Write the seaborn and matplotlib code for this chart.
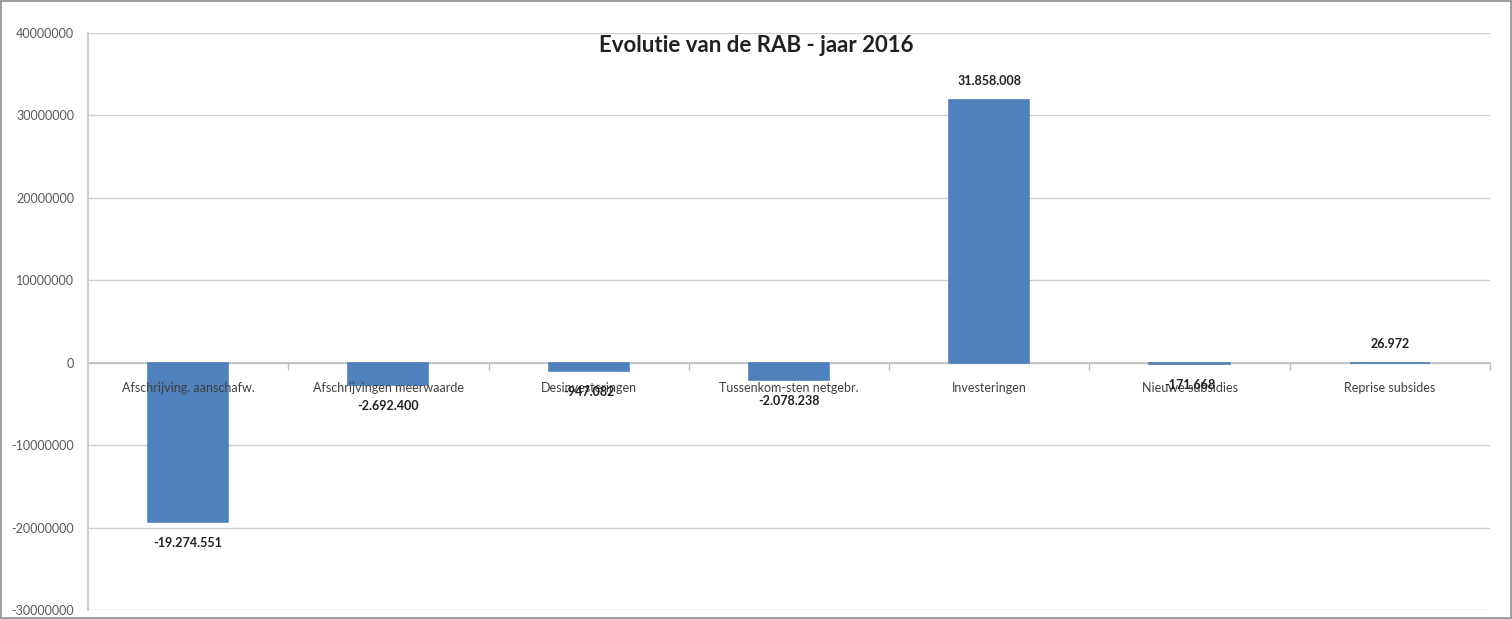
import matplotlib
matplotlib.use("Agg")
import matplotlib.pyplot as plt
import seaborn as sns
import pandas as pd
from matplotlib.ticker import FixedLocator, NullFormatter

categories = ["Afschrijving. aanschafw.", "Afschrijvingen meerwaarde", "Desinvesteringen",
              "Tussenkom-sten netgebr.", "Investeringen", "Nieuwe subsidies", "Reprise subsides"]
values = [-19274551, -2692400, -947082, -2078238, 31858008, -171668, 26972]
value_labels = ["-19.274.551", "-2.692.400", "-947.082", "-2.078.238", "31.858.008", "-171.668", "26.972"]
yticks = [-30000000, -20000000, -10000000, 0, 10000000, 20000000, 30000000, 40000000]
title = "Evolutie van de RAB - jaar 2016"

sns.set_theme(style="white")
plt.rcParams["font.family"] = ["Lato", "DejaVu Sans"]

fig = plt.figure(figsize=(15.12, 6.19), dpi=100)
fig.patch.set_edgecolor("#A0A0A0")
fig.patch.set_linewidth(1.5)
ax = fig.add_axes([0.0582, 0.0145, 0.9272, 0.9322])

df = pd.DataFrame({"cat": categories, "val": values})
sns.barplot(data=df, x="cat", y="val", color="#4F81BD", saturation=1, width=0.4, ax=ax, zorder=3,
            edgecolor="#4F81BD", linewidth=1.2)

ax.set_xlim(-0.5, len(categories) - 0.5)
ax.set_ylim(yticks[0], yticks[-1])
ax.set_yticks(yticks)
ax.set_yticklabels([str(v) for v in yticks], fontsize=9, color="#595959")
ax.yaxis.grid(True, color="#D0D0D0", linewidth=1, zorder=0)
ax.set_axisbelow(True)
ax.tick_params(axis="y", length=5, color="#C0C0C0", width=1, pad=5)
ax.set_xlabel("")
ax.set_ylabel("")

for s in ["top", "right"]:
    ax.spines[s].set_visible(False)
ax.spines["left"].set_color("#C8C8C8")
ax.spines["bottom"].set_position(("data", 0))
ax.spines["bottom"].set_color("#C0C0C0")
ax.spines["bottom"].set_zorder(1.5)
ax.xaxis.set_major_locator(FixedLocator([i + 0.5 for i in range(len(categories) - 1)] + [len(categories) - 0.5]))
ax.xaxis.set_major_formatter(NullFormatter())
ax.tick_params(axis="x", length=5, direction="out", color="#C0C0C0", width=1, bottom=True)

for i, c in enumerate(categories):
    ax.annotate(c, xy=(i, 0), xytext=(0, -25), textcoords="offset pixels",
                ha="center", va="center", fontsize=9, color="#404040", zorder=5)

for i, (v, lab) in enumerate(zip(values, value_labels)):
    off = 19 if v >= 0 else -21
    ax.annotate(lab, xy=(i, v), xytext=(0, off), textcoords="offset pixels",
                ha="center", va="center", fontsize=9, fontweight="bold", color="#202020", zorder=6)

fig.text(0.5, 0.926, title, ha="center", va="center", fontsize=16, fontweight="bold", color="#202020")

fig.savefig("out.png", dpi=100)
